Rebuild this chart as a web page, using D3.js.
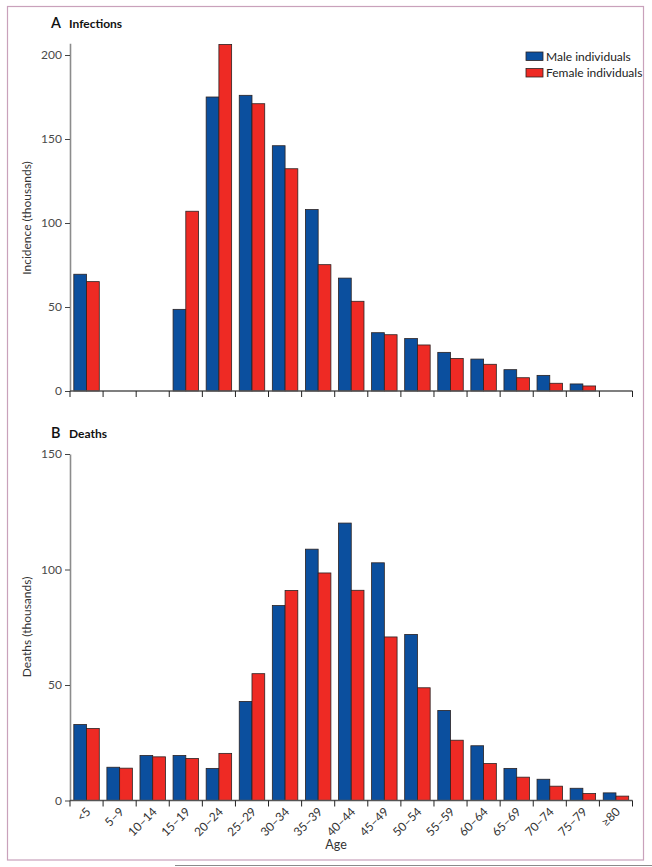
<!DOCTYPE html>
<html>
<head>
<meta charset="utf-8">
<script src="https://cdn.jsdelivr.net/npm/d3@7"></script>
<style>
  html, body { margin: 0; padding: 0; background: #fff; }
  svg { display: block; font-family: Lato, "Open Sans", sans-serif; }
</style>
</head>
<body>
<svg id="chart" width="652" height="867"></svg>
<script>
// ---- data ----
const ages = ["<5","5–9","10–14","15–19","20–24","25–29","30–34","35–39","40–44","45–49","50–54","55–59","60–64","65–69","70–74","75–79","≥80"];
const infectionsMale   = [69.5, 0, 0, 48.6, 175, 176, 146, 108, 67.2, 34.7, 31.2, 23.0, 19.0, 12.7, 9.3, 4.2, 0];
const infectionsFemale = [65.1, 0, 0, 107, 206.3, 171, 132.3, 75.2, 53.4, 33.5, 27.4, 19.4, 15.9, 7.9, 4.6, 3.0, 0];
const deathsMale   = [32.9, 14.4, 19.5, 19.5, 13.9, 42.9, 84.4, 108.8, 120.1, 102.9, 71.9, 39.0, 23.7, 13.9, 9.2, 5.3, 3.3];
const deathsFemale = [31.2, 14.0, 18.9, 18.2, 20.4, 54.9, 90.9, 98.5, 91.0, 70.8, 48.8, 26.1, 16.0, 10.1, 6.2, 3.0, 1.9];
const seriesNames = ["Male individuals", "Female individuals"];
const ticksA = [0, 50, 100, 150, 200];
const ticksB = [0, 50, 100, 150];

const colors = {"Male individuals": "#0b4f9e", "Female individuals": "#ee2a24"};

const svg = d3.select("#chart");

// frame
svg.append("rect").attr("x", 7.5).attr("y", 6.5).attr("width", 636).attr("height", 853.5)
  .attr("fill", "none").attr("stroke", "#c9a1bb").attr("stroke-width", 1.2);
svg.append("line").attr("x1", 175).attr("x2", 652).attr("y1", 865.5).attr("y2", 865.5)
  .attr("stroke", "#8a8a8a").attr("stroke-width", 1.2);

const x0 = d3.scaleBand().domain(ages).range([70, 632.5]).paddingInner(0.23).paddingOuter(0.115);
const x1 = d3.scaleBand().domain(seriesNames).range([0, x0.bandwidth()]);
const half = (x0.step() - x0.bandwidth()) / 2;
const boundaries = ages.map(a => x0(a) - half).concat([x0(ages[ages.length-1]) + x0.bandwidth() + half]);

function panel(opts) {
  const g = svg.append("g");
  const y = opts.y;
  const rows = ages.map((a, i) => ({age: a, vals: [
    {s: seriesNames[0], v: opts.male[i]}, {s: seriesNames[1], v: opts.female[i]}]}));

  // bars
  const grp = g.selectAll("g.grp").data(rows).join("g").attr("class", "grp")
    .attr("transform", d => `translate(${x0(d.age)},0)`);
  grp.selectAll("rect").data(d => d.vals.filter(v => v.v > 0)).join("rect")
    .attr("x", d => x1(d.s)).attr("width", x1.bandwidth())
    .attr("y", d => y(d.v)).attr("height", d => y(0) - y(d.v))
    .attr("fill", d => colors[d.s])
    .attr("stroke", "#2b2222").attr("stroke-width", 0.8);

  // y axis
  const ya = g.append("g").attr("transform", "translate(70,0)")
    .call(d3.axisLeft(y).tickValues(opts.ticks).tickSize(5).tickSizeOuter(0).tickPadding(3));
  ya.select(".domain").attr("stroke", "#8c8c8c").attr("stroke-width", 1.6);
  ya.selectAll(".tick line").attr("stroke", "#444").attr("stroke-width", 1);
  ya.selectAll(".tick text").attr("fill", "#4a4a4a").style("font-size", "12px").style("font-family", "Lato, sans-serif");

  // x axis (ticks at band boundaries)
  const y0 = y(0);
  g.append("line").attr("x1", 70).attr("x2", boundaries[boundaries.length-1])
    .attr("y1", y0).attr("y2", y0).attr("stroke", "#555").attr("stroke-width", 1.3);
  g.selectAll("line.xt").data(boundaries).join("line").attr("class", "xt")
    .attr("x1", d => d).attr("x2", d => d).attr("y1", y0).attr("y2", y0 + 6)
    .attr("stroke", "#222").attr("stroke-width", 1);

  // title
  g.append("text").attr("x", 51).attr("y", opts.titleY).text(opts.letter)
    .attr("fill", "#111").style("font-size", "14.5px").style("font-weight", 600);
  g.append("text").attr("x", 69).attr("y", opts.titleY).text(opts.title)
    .attr("fill", "#111").style("font-size", "12px").style("font-weight", 700);

  // y label
  g.append("text").attr("transform", `translate(31,${opts.labelY}) rotate(-90)`)
    .attr("text-anchor", "middle").text(opts.ylabel)
    .attr("fill", "#333").style("font-size", "12px");
  return g;
}

const yA = d3.scaleLinear().domain([0, 207]).range([391, 391 - 207 * 1.68]);
const yB = d3.scaleLinear().domain([0, 150]).range([800.5, 454]);

panel({y: yA, male: infectionsMale, female: infectionsFemale, ticks: ticksA,
  letter: "A", title: "Infections", titleY: 27.5, ylabel: "Incidence (thousands)", labelY: 218});
const gB = panel({y: yB, male: deathsMale, female: deathsFemale, ticks: ticksB,
  letter: "B", title: "Deaths", titleY: 437.5, ylabel: "Deaths (thousands)", labelY: 627});

// x labels for B
gB.selectAll("text.xl").data(ages).join("text").attr("class", "xl")
  .attr("transform", d => `translate(${x0(d) + x0.bandwidth()/2 + 5},${yB(0) + 12}) rotate(-45)`)
  .attr("text-anchor", "end").text(d => d)
  .attr("fill", "#333").style("font-size", "12px");
svg.append("text").attr("x", 336).attr("y", 849).attr("text-anchor", "middle").text("Age")
  .attr("fill", "#333").style("font-size", "12.5px");

// legend
const leg = svg.append("g").attr("transform", "translate(526,52)");
seriesNames.forEach((s, i) => {
  leg.append("rect").attr("x", 0).attr("y", i * 16.5).attr("width", 17).attr("height", 8.5)
    .attr("fill", colors[s]).attr("stroke", "#2b2222").attr("stroke-width", 0.8);
  leg.append("text").attr("x", 20).attr("y", i * 16.5 + 8.7).text(s)
    .attr("fill", "#222").style("font-size", "12px");
});
</script>
</body>
</html>
